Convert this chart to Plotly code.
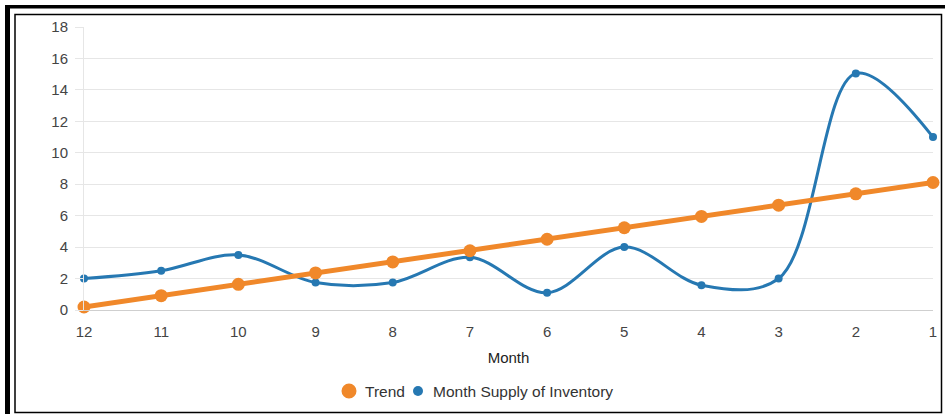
import plotly.graph_objects as go

# Months counted down from 12 to 1
months = ["12", "11", "10", "9", "8", "7", "6", "5", "4", "3", "2", "1"]
trend = [0.19, 0.91, 1.63, 2.36, 3.06, 3.77, 4.5, 5.23, 5.95, 6.67, 7.39, 8.11]
supply = [2.0, 2.5, 3.5, 1.75, 1.75, 3.35, 1.1, 4.0, 1.58, 2.0, 15.05, 11.0]
y_ticks = [0, 2, 4, 6, 8, 10, 12, 14, 16, 18]

ORANGE = "#F0882A"
BLUE = "#2678B2"
idx = list(range(len(months)))

fig = go.Figure()
fig.add_trace(go.Scatter(
    x=idx, y=supply, mode="lines+markers", name="Month Supply of Inventory",
    line=dict(color=BLUE, width=3, shape="spline", smoothing=1.0),
    marker=dict(color=BLUE, size=8), showlegend=False, cliponaxis=False,
))
fig.add_trace(go.Scatter(
    x=idx, y=trend, mode="lines+markers", name="Trend",
    line=dict(color=ORANGE, width=5),
    marker=dict(color=ORANGE, size=13), showlegend=False, cliponaxis=False,
))

L, R, T, B = 84, 12, 27, 104
W, H = 945, 414
pw, ph = W - L - R, H - T - B


def px(x):
    return (x - L) / pw


def py(y):
    return (H - B - y) / ph


shapes = [
    # outer heavy frame (top and left)
    dict(type="rect", xref="paper", yref="paper", x0=px(5), x1=px(950),
         y0=py(8.5), y1=py(5), fillcolor="black", line=dict(width=0), layer="above"),
    dict(type="rect", xref="paper", yref="paper", x0=px(5), x1=px(10),
         y0=py(420), y1=py(5), fillcolor="black", line=dict(width=0), layer="above"),
    # inner thin frame
    dict(type="rect", xref="paper", yref="paper", x0=px(15), x1=px(941.5),
         y0=py(412.5), y1=py(14.5), fillcolor="rgba(0,0,0,0)",
         line=dict(color="black", width=1.5), layer="above"),
]

# legend drawn as swatch circles plus labels
legend_items = [("Trend", ORANGE, 349, 7.5, 363), ("Month Supply of Inventory", BLUE, 418, 5, 431)]
annotations = []
LEG_Y = 391
for label, color, cx, r, tx in legend_items:
    shapes.append(dict(type="circle", xref="paper", yref="paper",
                       x0=px(cx - r), x1=px(cx + r), y0=py(LEG_Y + r), y1=py(LEG_Y - r),
                       fillcolor=color, line=dict(width=0)))
    annotations.append(dict(text=label, xref="paper", yref="paper", x=px(tx), y=py(LEG_Y),
                            xanchor="left", yanchor="middle", showarrow=False,
                            font=dict(size=15.5, color="#333333")))

fig.update_layout(
    width=W, height=H,
    margin=dict(l=L, r=R, t=T, b=B, autoexpand=False),
    paper_bgcolor="white", plot_bgcolor="white",
    font=dict(family="Liberation Sans, Arial, sans-serif", color="#333333", size=14),
    showlegend=False,
    xaxis=dict(
        range=[0, 11], tickvals=idx, ticktext=months,
        showgrid=False, zeroline=False, automargin=False,
        showline=True, linecolor="#cfcfcf", linewidth=1,
        ticks="outside", ticklen=8, tickcolor="rgba(0,0,0,0)",
        tickfont=dict(size=15, color="#444444"),
        title=dict(text="Month", font=dict(size=15, color="#222222"), standoff=13),
    ),
    yaxis=dict(
        range=[0, 18], tickvals=y_ticks, automargin=False,
        showgrid=True, gridcolor="#e6e6e6", gridwidth=1,
        zeroline=False, showline=True, linecolor="#e6e6e6",
        ticks="outside", ticklen=8, tickcolor="#e6e6e6",
        ticklabelstandoff=4,
        tickfont=dict(size=15, color="#444444"),
    ),
    shapes=shapes,
    annotations=annotations,
)

fig.write_html("out.html")
